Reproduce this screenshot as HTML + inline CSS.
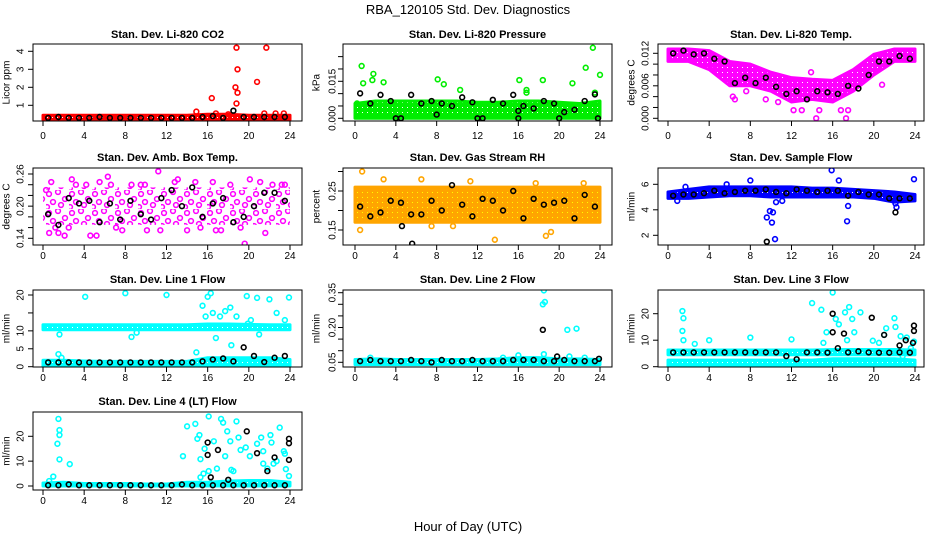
<!DOCTYPE html>
<html><head><meta charset="utf-8">
<style>
html,body{margin:0;padding:0;background:#fff;}
svg{display:block;font-family:"Liberation Sans",sans-serif;}
</style></head>
<body>
<svg id="chart" width="936" height="540" viewBox="0 0 936 540">
<text x="468" y="14" text-anchor="middle" font-size="13">RBA_120105  Std. Dev. Diagnostics</text>
<text x="468" y="531" text-anchor="middle" font-size="13">Hour of Day (UTC)</text>
</svg>
<script>
// shared hours
const bandHours = [0,2,4,6,8,10,12,14,16,18,20,22,24];
const halfHours = [0.5,1.5,2.5,3.5,4.5,5.5,6.5,7.5,8.5,9.5,10.5,11.5,12.5,13.5,14.5,15.5,16.5,17.5,18.5,19.5,20.5,21.5,22.5,23.5];
const xTickLabels = [0,4,8,12,16,20,24];

// P1 CO2
const p1BandLo = [0.2,0.2,0.2,0.2,0.2,0.2,0.2,0.2,0.2,0.2,0.2,0.2,0.2];
const p1BandHi = [0.45,0.45,0.45,0.45,0.45,0.45,0.45,0.45,0.5,0.5,0.45,0.45,0.45];
const p1OutX = [16.4,18.8,18.7,18.9,18.9,18.8,20.8,21.7,14.9,16.8,21.5,22.6,23.4,18.0];
const p1OutY = [1.4,4.2,2.0,3.0,1.7,1.1,2.3,4.2,0.65,0.55,0.55,0.55,0.55,0.5];
const p1BlkY = [0.3,0.35,0.3,0.3,0.3,0.35,0.3,0.3,0.3,0.3,0.3,0.3,0.3,0.3,0.3,0.35,0.4,0.3,0.7,0.35,0.35,0.35,0.35,0.35];

// P2 Pressure
const p2BandLo = [0,0,0,0,0,0,0,0,0,0,0,0,0];
const p2BandHi = [0.006,0.007,0.007,0.007,0.007,0.007,0.0065,0.0065,0.007,0.007,0.0065,0.006,0.007];
const p2OutX = [0.65,0.8,1.7,1.8,2.8,8.1,8.7,10.3,16.1,16.8,18.4,21.3,22.6,23.3,24,23.5,16.8,0.2,0.3];
const p2OutY = [0.0212,0.0142,0.0155,0.018,0.0146,0.0158,0.0138,0.0115,0.0155,0.0115,0.0155,0.0142,0.0205,0.0286,0.0176,0.0104,0.0104,0.006,0.002];
const p2BlkX = halfHours.concat([4,12,16,20,23.8,8,16]);
const p2BlkY = [0.0101,0.006,0.0095,0.007,0,0.0095,0.006,0.007,0.006,0.005,0.0085,0.0065,0,0.0075,0.006,0.0095,0.005,0.004,0.007,0.006,0.0025,0.0035,0.007,0.0097,0,0,0,0,0,0.0015,0.003];

// P3 Li-820 Temp
const p3BandLo = [0.0105,0.0105,0.009,0.006,0.006,0.005,0.003,0.0035,0.003,0.005,0.008,0.0105,0.0105];
const p3BandHi = [0.0128,0.0128,0.0125,0.0105,0.010,0.0085,0.0075,0.0072,0.007,0.009,0.0118,0.0128,0.0128];
const p3OutX = [14.4,17.3,6.3,12.2,13,16.8,17.5,14.7,9.5,10.7,20.8,6.5,7.6,13.9,4.5];
const p3OutY = [0,0,0.004,0.0015,0.0015,0.0015,0.0015,0.0015,0.0035,0.003,0.0062,0.0035,0.005,0.0085,0.0095];
const p3BlkY = [0.012,0.0125,0.0118,0.012,0.011,0.0105,0.0065,0.0075,0.0065,0.0075,0.0058,0.0045,0.005,0.0035,0.005,0.0048,0.0045,0.006,0.0055,0.008,0.0105,0.0105,0.0115,0.011];

// P4 Amb box temp
const p4BandLo = [0.165,0.165,0.165,0.165,0.165,0.165,0.165,0.165,0.165,0.165,0.165,0.165,0.165];
const p4BandHi = [0.235,0.235,0.235,0.235,0.235,0.235,0.235,0.235,0.235,0.235,0.235,0.235,0.235];
const p4OutX = [0.8,1.2,1.5,2.1,2.8,4.6,5.2,5.5,6.3,6.6,7.7,11.2,13.1,14.8,16.5,19.6,20.1,21.6,22.3,23.2,0.6,10.1,11.4,17.3,23.5,3.2,8.6,12.8,18.2,9.5,14,16.8,0.3,2.5,4.2,7.1,9.9,15.3,19.2,21.1];
const p4OutY = [0.245,0.16,0.15,0.145,0.25,0.145,0.145,0.245,0.255,0.24,0.155,0.265,0.25,0.245,0.245,0.13,0.25,0.15,0.24,0.24,0.15,0.155,0.155,0.155,0.24,0.24,0.24,0.245,0.24,0.24,0.155,0.155,0.23,0.16,0.24,0.16,0.24,0.16,0.16,0.245];
const p4BlkY = [0.185,0.165,0.215,0.205,0.21,0.17,0.205,0.175,0.21,0.185,0.175,0.215,0.23,0.2,0.235,0.18,0.205,0.215,0.17,0.18,0.2,0.225,0.225,0.21];

// P5 Gas stream RH
const p5BandLo = [0.17,0.17,0.17,0.17,0.17,0.17,0.17,0.17,0.17,0.17,0.17,0.17,0.17];
const p5BandHi = [0.26,0.26,0.26,0.26,0.26,0.26,0.26,0.26,0.26,0.26,0.26,0.26,0.26];
const p5OutX = [0.7,2.8,0.5,18.7,13.7,19.2,6.5,11.3,17.7,22.4,9.6,7.5];
const p5OutY = [0.30,0.28,0.15,0.135,0.125,0.145,0.28,0.275,0.27,0.27,0.16,0.16];
const p5BlkX = halfHours.concat([5.6,4.6]);
const p5BlkY = [0.21,0.185,0.195,0.225,0.22,0.19,0.19,0.225,0.2,0.265,0.215,0.185,0.23,0.225,0.2,0.25,0.18,0.23,0.215,0.22,0.225,0.18,0.24,0.21,0.115,0.16];

// P6 Sample flow
const p6BandLo = [4.9,4.9,5.0,5.1,5.1,5.0,5.0,5.0,5.0,5.0,4.9,4.6,4.7];
const p6BandHi = [5.4,5.6,5.8,5.8,5.8,5.8,5.8,5.7,5.7,5.6,5.5,5.4,5.2];
const p6OutX = [9.6,9.9,10.1,10.2,10.4,10.5,15.9,16.6,17.4,17.5,23.9,8.0,1.7,5.7,22.2,22.1,0.9,11.1];
const p6OutY = [3.4,3.9,3.0,3.8,1.7,4.6,7.1,6.3,3.1,4.3,6.4,6.3,5.8,6.0,4.2,4.5,4.7,4.7];
const p6BlkX = halfHours.concat([9.6,22.1]);
const p6BlkY = [5.1,5.2,5.2,5.3,5.5,5.3,5.4,5.5,5.5,5.6,5.4,5.3,5.6,5.5,5.4,5.5,5.5,5.1,5.4,5.2,5.2,4.9,4.9,4.9,1.5,3.8];

// P7 Line 1 flow
const p7BandLo = [10.3,10.3,10.3,10.3,10.3,10.3,10.3,10.3,10.3,10.3,10.3,10.3,10.3];
const p7BandHi = [11.7,11.7,11.7,11.7,11.7,11.7,11.7,11.7,11.9,11.9,11.8,11.7,11.7];
const p7Band2Lo = [0,0,0,0,0,0,0,0,0,0,0,0,0];
const p7Band2Hi = [1.8,1.8,1.6,1.5,1.5,1.5,1.5,1.5,2.5,2.5,2.5,2.5,2.0];
const p7OutX = [4.1,8,12,15.5,16,16.3,19.8,20.8,22,23.9,15.8,17.7,18.2,1.6,9.1,8.6,1.5,14.9,16.8,18.8,19.9,21,22.7,23.5,18.3,16.5,17.2,20.2,1.8];
const p7OutY = [19.5,20.5,20,17,19.5,20.5,19.7,19.2,18.8,19.3,14,15.5,16.5,9,9.5,8.3,3.5,4,8,14,12,9,15,13,6,15,14,13,2.5];
const p7BlkY = [1.2,1.2,1.2,1.2,1.2,1.2,1.2,1.2,1.2,1.2,1.2,1.2,1.2,1.2,1.2,1.5,2,2.3,1.5,5.4,3,1.3,2.5,3];

// P8 Line 2 flow
const p8BandLo = [0.04,0.04,0.04,0.04,0.04,0.04,0.04,0.04,0.04,0.04,0.04,0.04,0.04];
const p8BandHi = [0.062,0.065,0.062,0.062,0.062,0.062,0.062,0.065,0.07,0.07,0.065,0.065,0.062];
const p8OutX = [18.5,18.4,18.6,18.5,20.8,21.7,16,21,1.5,22.5,14.5];
const p8OutY = [0.36,0.30,0.31,0.085,0.19,0.195,0.08,0.075,0.07,0.07,0.07];
const p8BlkX = halfHours.concat([18.4,19.8,23.9]);
const p8BlkY = [0.055,0.06,0.055,0.055,0.055,0.06,0.055,0.05,0.06,0.055,0.055,0.06,0.055,0.055,0.055,0.06,0.06,0.06,0.055,0.055,0.06,0.055,0.055,0.055,0.19,0.075,0.065];

// P9 Line 3 flow
const p9BandLo = [4.5,4.5,4.5,4.5,4.5,4.5,4.5,4.5,4.5,4.5,4.5,4.5,4.5];
const p9BandHi = [6.3,6.3,6.3,6.3,6.3,6.3,6.3,6.3,6.5,6.5,6.5,6.5,6.3];
const p9Band2Lo = [0,0,0,0,0,0,0,0,0,0,0,0,0];
const p9Band2Hi = [2.5,2.5,2.5,2.5,2.5,2.5,2.5,2.5,3,3,3,3,2.5];
const p9OutX = [1.4,1.5,1.4,1.5,2.6,4,8,12,14,14.9,16,15.4,16.6,17.2,17.6,17.9,18.1,18.7,19.9,21,21.2,22,22.1,22.6,23.2,23.6,23.9,15.1,17.4,16.1,16.3,20.5,22.8];
const p9OutY = [21,18.3,13.5,10,8.6,10,11,10.3,24,21.5,28,13,16,20.5,22.5,18,13,20.5,9.8,12,14.5,18.3,15,11.5,11,7,9.5,9,10,5.5,18,9,4];
const p9BlkX = halfHours.concat([16,16,17.1,19.8,21,22.5,23.1,23.9,23.9,23.8]);
const p9BlkY = [5.4,5.4,5.4,5.4,5.4,5.4,5.4,5.4,5.4,5.4,5.4,4,2.8,5.4,5.4,5.3,7,5.4,5.8,5.4,5.3,5.3,5.4,5.3,20,13,12.5,18.5,12,8,10,15.5,13.5,9];

// P10 Line 4 (LT) flow
const p10BandLo = [0,0,0,0,0,0,0,0,0,0,0,0,0];
const p10BandHi = [1.2,1.5,1.0,1.0,1.0,0.8,0.8,1.5,1.5,2.0,2.2,2.2,1.5];
const p10OutX = [1.5,1.6,1.4,1.6,1.6,2.6,1,0.6,13.6,14,14.8,15,15.2,16.1,16.6,17.3,17.5,17.9,18.2,18.8,19,18.5,19.2,19.7,20.1,20.8,21.2,21.4,22.1,22.2,23,23.4,23.5,23.6,23.9,15.3,15.6,15.7,16.9,17.7,18.3,21.4,21.8,22.4,15.3,16.1,22.7];
const p10OutY = [27,20.5,17,22.5,10.7,8.8,3.8,2,12,24,25,19,20.5,28,18,27,25.5,22,18,26,19.5,6,14.5,15.5,12,17,19.5,14,20.5,17.5,23.5,14,13,6.8,4,10.8,5,15,7,12,6.5,9,7,9,3.5,6,10];
const p10BlkX = halfHours.concat([16,16,17,19.8,20.8,22.5,21.8,23.9,23.9,23.9,16.3,18]);
const p10BlkY = [0.3,0.3,0.6,0.3,0.3,0.3,0.3,0.3,0.3,0.3,0.3,0.3,0.3,0.6,0.3,0.3,0.3,0.3,0.3,0.3,0.3,0.3,0.3,0.3,17.5,12.5,14.5,22,13.2,11.5,6,19,17.2,10.5,3.5,2.5];

const svg = document.getElementById('chart');
const NS = 'http://www.w3.org/2000/svg';
function mk(tag, attrs, parent){
  const e = document.createElementNS(NS, tag);
  for (const k in attrs) e.setAttribute(k, attrs[k]);
  (parent||svg).appendChild(e);
  return e;
}
const cols = [{l:33,r:302,x0:43,x24:290,tl:21,yl:7},{l:343,r:612,x0:355,x24:600,tl:333,yl:317},{l:658,r:924,x0:668,x24:915,tl:646,yl:632}];
const rows = [{t:44,b:121,title:34,xl:139},{t:168,b:245,title:157,xl:259},{t:290,b:367,title:279,xl:381},{t:412,b:490,title:401,xl:504}];

const panels = [
 {name:'co2',title:'Stan. Dev. Li-820 CO2',yt:'Licor ppm',c:0,r:0,v1:1,p1:105.3,v2:4,p2:51.3,ticks:[1,2,3,4],labels:['1','2','3','4'],color:'#ff0000',lo:p1BandLo,hi:p1BandHi,ox:p1OutX,oy:p1OutY,bx:halfHours,by:p1BlkY},
 {name:'pressure',title:'Stan. Dev. Li-820 Pressure',yt:'kPa',c:1,r:0,v1:0,p1:118.3,v2:0.015,p2:81.3,ticks:[0,0.005,0.01,0.015,0.02,0.025],labels:['0.000','','','0.015','',''],color:'#00ee00',lo:p2BandLo,hi:p2BandHi,ox:p2OutX,oy:p2OutY,bx:p2BlkX,by:p2BlkY},
 {name:'li820-temp',title:'Stan. Dev. Li-820 Temp.',yt:'degrees C',c:2,r:0,v1:0,p1:118.3,v2:0.012,p2:53.3,ticks:[0,0.002,0.004,0.006,0.008,0.01,0.012],labels:['0.000','','','0.006','','','0.012'],color:'#ff00ff',lo:p3BandLo,hi:p3BandHi,ox:p3OutX,oy:p3OutY,bx:halfHours,by:p3BlkY},
 {name:'amb-box-temp',title:'Stan. Dev. Amb. Box Temp.',yt:'degrees C',c:0,r:1,v1:0.14,p1:238.3,v2:0.26,p2:174,ticks:[0.14,0.16,0.18,0.2,0.22,0.24,0.26],labels:['0.14','','','0.20','','','0.26'],color:'#ff00ff',lo:p4BandLo,hi:p4BandHi,ox:p4OutX,oy:p4OutY,bx:halfHours,by:p4BlkY,sparse:true},
 {name:'gas-stream-rh',title:'Stan. Dev. Gas Stream RH',yt:'percent',c:1,r:1,v1:0.15,p1:230,v2:0.25,p2:191,ticks:[0.15,0.2,0.25,0.3],labels:['0.15','','0.25',''],color:'#ffa500',lo:p5BandLo,hi:p5BandHi,ox:p5OutX,oy:p5OutY,bx:p5BlkX,by:p5BlkY,rh:true},
 {name:'sample-flow',title:'Stan. Dev. Sample Flow',yt:'ml/min',c:2,r:1,v1:2,p1:235.3,v2:6,p2:184.3,ticks:[2,4,6,8],labels:['2','4','6',''],color:'#0000ff',lo:p6BandLo,hi:p6BandHi,ox:p6OutX,oy:p6OutY,bx:p6BlkX,by:p6BlkY},
 {name:'line1-flow',title:'Stan. Dev. Line 1 Flow',yt:'ml/min',c:0,r:2,v1:0,p1:366.7,v2:20,p2:295,ticks:[0,5,10,15,20],labels:['0','5','10','','20'],color:'#00ffff',lo:p7BandLo,hi:p7BandHi,lo2:p7Band2Lo,hi2:p7Band2Hi,ox:p7OutX,oy:p7OutY,bx:halfHours,by:p7BlkY},
 {name:'line2-flow',title:'Stan. Dev. Line 2 Flow',yt:'ml/min',c:1,r:2,v1:0.05,p1:362.3,v2:0.35,p2:292.7,ticks:[0.05,0.1,0.15,0.2,0.25,0.3,0.35],labels:['0.05','','','0.20','','','0.35'],color:'#00ffff',lo:p8BandLo,hi:p8BandHi,ox:p8OutX,oy:p8OutY,bx:p8BlkX,by:p8BlkY},
 {name:'line3-flow',title:'Stan. Dev. Line 3 Flow',yt:'ml/min',c:2,r:2,v1:0,p1:366.7,v2:20,p2:313.7,ticks:[0,10,20],labels:['0','10','20'],color:'#00ffff',lo:p9BandLo,hi:p9BandHi,lo2:p9Band2Lo,hi2:p9Band2Hi,ox:p9OutX,oy:p9OutY,bx:p9BlkX,by:p9BlkY},
 {name:'line4-flow',title:'Stan. Dev. Line 4 (LT) Flow',yt:'ml/min',c:0,r:3,v1:0,p1:486,v2:20,p2:436.3,ticks:[0,10,20],labels:['0','10','20'],color:'#00ffff',lo:p10BandLo,hi:p10BandHi,ox:p10OutX,oy:p10OutY,bx:p10BlkX,by:p10BlkY}
];

const defs = mk('defs', {});
panels.forEach((p, i) => {
  const C = cols[p.c], R = rows[p.r];
  const pat = mk('pattern', {id:'pat' + i, width: p.sparse ? 23 : 5, height: p.sparse ? 19 : 5, patternUnits:'userSpaceOnUse'}, defs);
  if (p.sparse) {
    [[3,4],[12,2],[19,9],[7,12],[15,15],[1,17]].forEach(q => {
      mk('circle', {cx:q[0], cy:q[1], r:2.4, fill:'none', stroke:p.color, 'stroke-width':'1.5'}, pat);
    });
  } else {
    mk('rect', {x:0, y:0, width:5, height:5, fill:p.color}, pat);
    mk('rect', {x:2, y:2, width:1, height:1, fill:p.rh ? '#ffff00' : '#ffffff'}, pat);
  }
  const g = mk('g', {});
  
  
  const xs = h => C.x0 + h * (C.x24 - C.x0) / 24;
  const ys = v => p.p1 + (v - p.v1) * (p.p2 - p.p1) / (p.v2 - p.v1);
  const cx = (C.l + C.r) / 2;
  const t = mk('text', {x:cx, y:R.title + 4, 'text-anchor':'middle', 'font-size':'11', 'font-weight':'bold'}, g);
  t.textContent = p.title;
  
  
  const clipId = 'clip' + i;
  const cp = mk('clipPath', {id:clipId}, g);
  mk('rect', {x:C.l, y:R.t, width:C.r - C.l, height:R.b - R.t}, cp);
  const plot = mk('g', {'clip-path':'url(#' + clipId + ')'}, g);
  function band(lo, hi){
    let pts = bandHours.map((h, k) => xs(h) + ',' + ys(hi[k]));
    pts = pts.concat(bandHours.slice().reverse().map((h, k) => xs(h) + ',' + ys(lo[lo.length - 1 - k])));
    const pg = mk('polygon', {points:pts.join(' '), fill:'url(#pat' + i + ')', stroke:p.sparse ? 'none' : p.color, 'stroke-width':'3', 'stroke-linejoin':'round'}, plot);
    
    
  }
  band(p.lo, p.hi);
  if (p.lo2) band(p.lo2, p.hi2);
  p.ox.forEach((h, k) => {
    const c = mk('circle', {cx:xs(h), cy:ys(p.oy[k]), r:2.4, fill:'none', stroke:p.color, 'stroke-width':'1.6'}, plot);
    
    
  });
  p.bx.forEach((h, k) => {
    const c = mk('circle', {cx:xs(h), cy:ys(p.by[k]), r:2.4, fill:'none', stroke:'#000', 'stroke-width':'1.6'}, plot);
    
    
  });
  const box = mk('rect', {x:C.l, y:R.t, width:C.r - C.l, height:R.b - R.t, fill:'none', stroke:'#000', 'stroke-width':'1'}, g);
  
  
  xTickLabels.forEach(h => {
    mk('line', {x1:xs(h), x2:xs(h), y1:R.b, y2:R.b + 5, stroke:'#000'}, g);
    const tl = mk('text', {x:xs(h), y:R.xl, 'text-anchor':'middle', 'font-size':'10'}, g);
    tl.textContent = h;
    
    
  });
  p.ticks.forEach((v, k) => {
    const y = ys(v);
    if (y < R.t - 1 || y > R.b + 4) return;
    mk('line', {x1:C.l - 5, x2:C.l, y1:y, y2:y, stroke:'#000'}, g);
    if (p.labels[k]) {
      const tl = mk('text', {x:C.tl, y:y, 'text-anchor':'middle', 'font-size':'10', transform:'rotate(-90 ' + C.tl + ' ' + y + ')', 'dominant-baseline':'middle'}, g);
      tl.textContent = p.labels[k];
      
      
    }
  });
  const yc = (R.t + R.b) / 2;
  const yt = mk('text', {x:C.yl, y:yc, 'text-anchor':'middle', 'font-size':'10', transform:'rotate(-90 ' + C.yl + ' ' + yc + ')', 'dominant-baseline':'middle'}, g);
  yt.textContent = p.yt;
  
  
});
</script>
</body></html>
